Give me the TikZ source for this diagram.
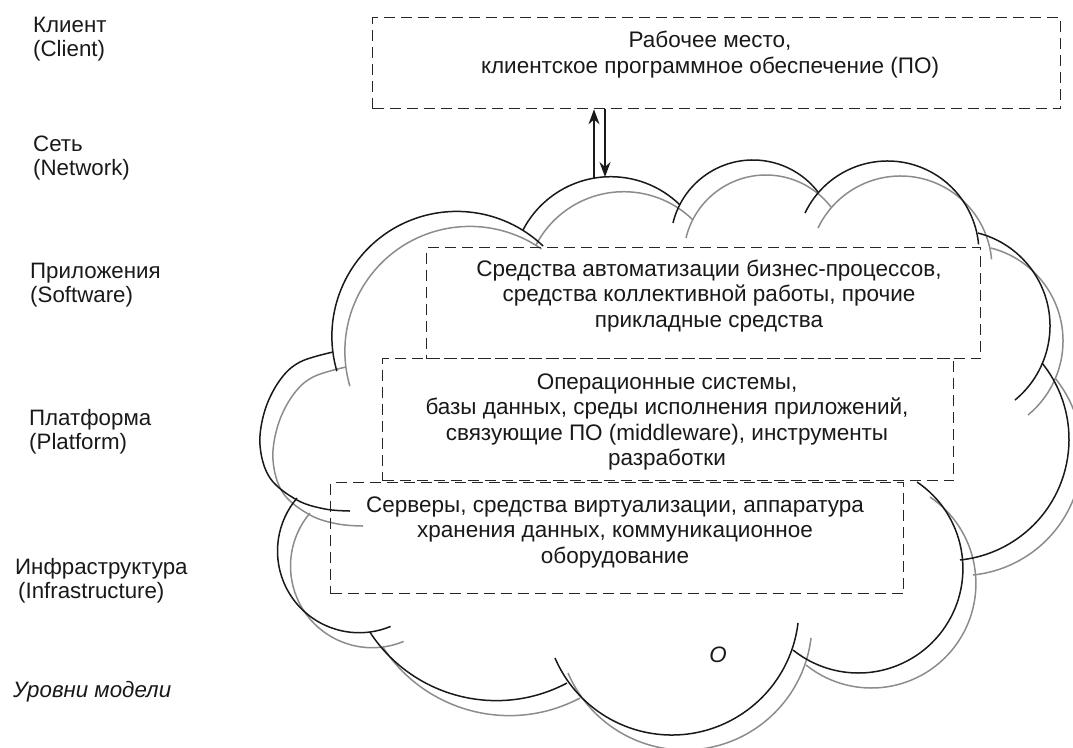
\documentclass[tikz,border=0pt]{standalone}
\usepackage{fontspec}
\setmainfont{Liberation Sans}
\usetikzlibrary{arrows.meta}
\begin{document}
\begin{tikzpicture}[x=1pt,y=-1pt,
  layerbox/.style={draw=black!85, line width=1.3pt, dash pattern=on 11pt off 6pt,
    inner sep=0pt, anchor=north west},
  boxtext/.style={font=\fontsize{22.5}{25.5}\selectfont, align=center, inner sep=0pt, text=black!90},
  levellabel/.style={font=\fontsize{22.3}{24}\selectfont, align=left, inner sep=0pt, anchor=west, text=black!90},
  cloudline/.style={line width=1.5pt, draw=black!90},
  cloudshade/.style={line width=1.5pt, draw=black!45},
  conn/.style={line width=1.4pt, draw=black!90, -{Stealth[length=15pt, width=11pt]}}
]
\clip (0,0) rectangle (1073,747);

% grey shadow of the cloud, offset down and right
\begin{scope}[shift={(13,15)}]
  \foreach \cx/\cy/\r/\a/\b in {
      610.75/275.6/98.9/207.5/314.5,
      752.9/242.2/82.2/193.5/322.4,
      887.5/252.4/91.4/205.5/355,
      954.1/325.9/95.9/284.4/410.6,
      947.7/439.3/121.3/321/444.2,
      858.4/568.5/104.5/304.1/488.7,
      671.8/607.9/127.1/6.8/156.8,
      496.3/549.7/150.9/62.1/146.9,
      359.2/551.0/81.7/67.4/220.4,
      456.8/336.3/124.9/163.8/305}
    \draw[cloudshade] (\cx,\cy) ++(\a:\r) arc[start angle=\a, end angle=\b, radius=\r];
  \draw[cloudshade] plot[smooth, tension=0.6] coordinates {(333,352) (300,362) (280,380) (265,410) (260,445) (270,478) (297,500) (325,509) (350,511)};
\end{scope}

% cloud outline built from overlapping arcs
\foreach \cx/\cy/\r/\a/\b in {
    610.75/275.6/98.9/207.5/314.5,
    752.9/242.2/82.2/193.5/322.4,
    887.5/252.4/91.4/205.5/355,
    954.1/325.9/95.9/284.4/410.6,
    947.7/439.3/121.3/321/444.2,
    858.4/568.5/104.5/304.1/488.7,
    671.8/607.9/127.1/6.8/156.8,
    496.3/549.7/150.9/62.1/146.9,
    359.2/551.0/81.7/67.4/220.4,
    456.8/336.3/124.9/163.8/313.7}
  \draw[cloudline] (\cx,\cy) ++(\a:\r) arc[start angle=\a, end angle=\b, radius=\r];
\draw[cloudline] plot[smooth, tension=0.6] coordinates {(333,352) (300,362) (280,380) (265,410) (260,445) (270,478) (297,500) (325,509) (350,511)};

% layer boxes
\node[layerbox, minimum width=688pt, minimum height=91pt] (client) at (372,17) {};
\node[layerbox, minimum width=554pt, minimum height=111pt] (software) at (426,247) {};
\node[layerbox, minimum width=571pt, minimum height=122pt] (platform) at (382,358) {};
\node[layerbox, minimum width=573pt, minimum height=111pt] (infra) at (330,482) {};

\node[boxtext] (clienttext) at (710,54.5) {Рабочее место,\\клиентское программное обеспечение (ПО)};
\node[boxtext] (softwaretext) at (709,296) {Средства автоматизации бизнес-процессов,\\средства коллективной работы, прочие\\прикладные средства};
\node[boxtext] (platformtext) at (667,422) {Операционные системы,\\базы данных, среды исполнения приложений,\\связующие ПО (middleware), инструменты\\разработки};
\node[boxtext] (infratext) at (615,532) {Серверы, средства виртуализации, аппаратура\\хранения данных, коммуникационное\\оборудование};

% network link between the client and the cloud
\coordinate (upfoot) at (594,178);
\coordinate (downfoot) at (605,177);
\draw[conn] (upfoot) -- (upfoot |- client.south);
\draw[conn] (downfoot |- client.south) -- (downfoot);

% model levels
\node[levellabel] (lclient) at (33,39) {Клиент\\(Client)};
\node[levellabel] (lnet) at (33,158) {Сеть\\(Network)};
\node[levellabel] (lsoft) at (30,285.5) {Приложения\\(Software)};
\node[levellabel] (lplat) at (29,432) {Платформа\\(Platform)};
\node[levellabel] (linfra) at (15,581) {Инфраструктура\\\hspace*{3pt}(Infrastructure)};
\node[levellabel, font=\fontsize{22.3}{24}\selectfont\itshape] (levels) at (13,692) {Уровни модели};
\node[boxtext, font=\fontsize{22.3}{25.5}\selectfont\itshape] (omark) at (718,655) {O};
\end{tikzpicture}
\end{document}
